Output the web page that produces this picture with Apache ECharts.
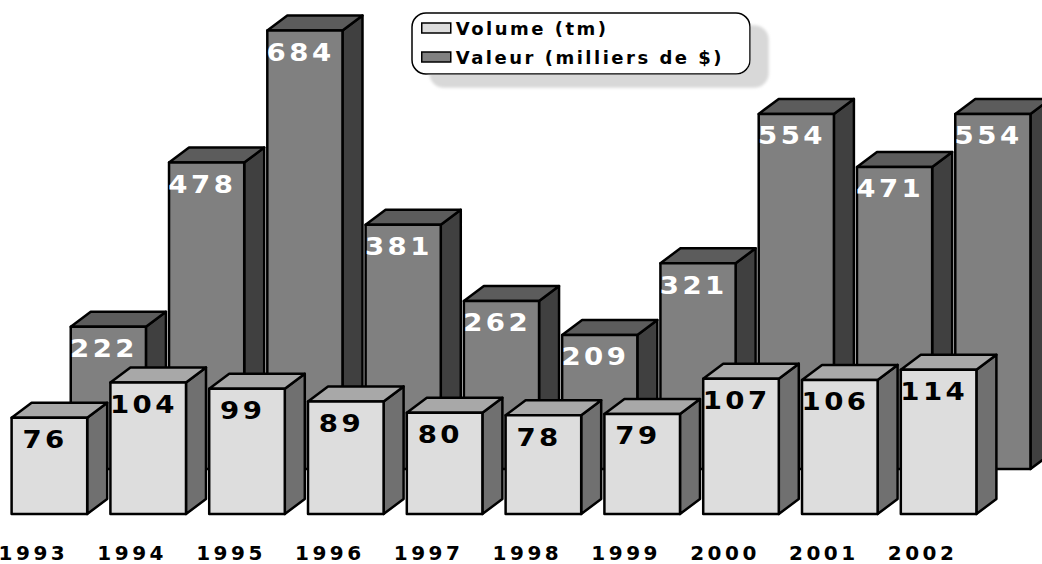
<!DOCTYPE html>
<html>
<head>
<meta charset="utf-8">
<script src="https://cdn.jsdelivr.net/npm/echarts/dist/echarts.min.js"></script>
<style>
  html, body { margin: 0; padding: 0; background: #fff; }
  #chart { width: 1042px; height: 564px; }
  #chart text[style*="24px"] { letter-spacing: 3px; }
  #chart text[style*="20px"] { letter-spacing: 3.5px; }
  #chart text[style*="18px"] { letter-spacing: 2.5px; }
</style>
</head>
<body>
<div id="chart"></div>
<script>
const years = ['1993', '1994', '1995', '1996', '1997', '1998', '1999', '2000', '2001', '2002'];
const volume = [76, 104, 99, 89, 80, 78, 79, 107, 106, 114];
const valeur = [222, 478, 684, 381, 262, 209, 321, 554, 471, 554];
const seriesNames = ['Volume (tm)', 'Valeur (milliers de $)'];

const DX = 20, DY = -15;
const FONT = 'DejaVu Sans';

function boxRenderer(colors) {
  return function (params, api) {
    const i = api.value(0), v = api.value(1);
    const base = api.coord([i, 0]);
    const top = api.coord([i, v]);
    const w = api.size([1, 0])[0] * 0.765;
    const x0 = base[0] - w / 2, x1 = base[0] + w / 2;
    const yb = base[1], yt = top[1];
    const stroke = { stroke: '#000', lineWidth: 2.5, lineJoin: 'round' };
    return {
      type: 'group',
      children: [
        { type: 'polygon', shape: { points: [[x1, yt], [x1 + DX, yt + DY], [x1 + DX, yb + DY], [x1, yb]] },
          style: Object.assign({ fill: colors.side }, stroke) },
        { type: 'polygon', shape: { points: [[x0, yt], [x0 + DX, yt + DY], [x1 + DX, yt + DY], [x1, yt]] },
          style: Object.assign({ fill: colors.top }, stroke) },
        { type: 'rect', shape: { x: x0, y: yt, width: w, height: yb - yt },
          style: Object.assign({ fill: colors.face }, stroke) },
        { type: 'text', x: base[0] - 4.3, y: yt + 22, scaleX: 1.15,
          style: { text: String(v), fill: colors.label, fontFamily: FONT, fontWeight: 'bold', fontSize: 24,
                   align: 'center', verticalAlign: 'middle' } }
      ]
    };
  };
}

const chart = echarts.init(document.getElementById('chart'), null, { renderer: 'svg' });
chart.setOption({
  animation: false,
  backgroundColor: '#fff',
  legend: {
    orient: 'vertical', left: 412, top: 13,
    padding: [6, 81, 8, 9], itemGap: 11, itemWidth: 29, itemHeight: 10,
    backgroundColor: '#fff', borderColor: '#000', borderWidth: 1.5, borderRadius: 14,
    shadowColor: '#d8d8d8', shadowBlur: 3, shadowOffsetX: 18, shadowOffsetY: 13,
    icon: 'rect', selectedMode: false,
    itemStyle: { borderColor: '#000', borderWidth: 1.5 },
    textStyle: { fontFamily: FONT, fontWeight: 'bold', fontSize: 18, color: '#000' },
    data: seriesNames
  },
  grid: [
    { left: 0, width: 988, top: 0, bottom: 50 },
    { left: 59.2, width: 986.7, top: 0, bottom: 95 }
  ],
  xAxis: [
    { type: 'category', gridIndex: 0, data: years,
      axisLine: { show: false }, axisTick: { show: false }, splitLine: { show: false },
      axisLabel: { fontFamily: FONT, fontWeight: 'bold', fontSize: 20, color: '#000', margin: 29, padding: [0, 32, 0, 0] } },
    { type: 'category', gridIndex: 1, data: years, show: false }
  ],
  yAxis: [
    { type: 'value', gridIndex: 0, min: 0, max: 406.3, show: false, splitLine: { show: false } },
    { type: 'value', gridIndex: 1, min: 0, max: 731.7, show: false, splitLine: { show: false } }
  ],
  series: [
    { type: 'custom', name: seriesNames[1], xAxisIndex: 1, yAxisIndex: 1, z: 1,
      itemStyle: { color: '#808080', borderColor: '#000', borderWidth: 1.5 },
      encode: { x: 0, y: 1 },
      data: valeur.map((v, i) => [i, v]),
      renderItem: boxRenderer({ face: '#808080', top: '#5c5c5c', side: '#404040', label: '#fff' }) },
    { type: 'custom', name: seriesNames[0], xAxisIndex: 0, yAxisIndex: 0, z: 2,
      itemStyle: { color: '#dddddd', borderColor: '#000', borderWidth: 1.5 },
      encode: { x: 0, y: 1 },
      data: volume.map((v, i) => [i, v]),
      renderItem: boxRenderer({ face: '#dddddd', top: '#a8a8a8', side: '#707070', label: '#000' }) }
  ]
});
</script>
</body>
</html>
